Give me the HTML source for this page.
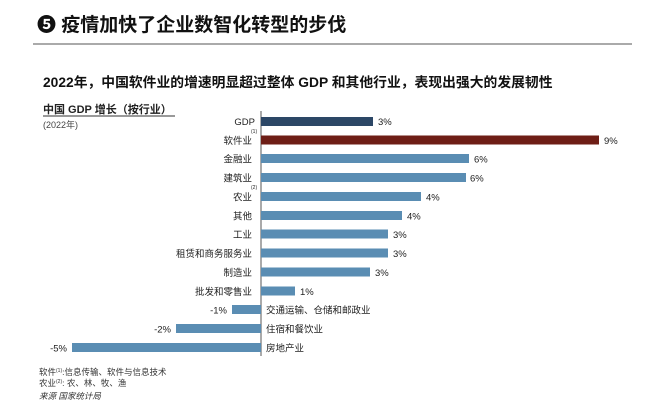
<!DOCTYPE html>
<html><head><meta charset="utf-8"><style>
body{margin:0;background:#fff;width:660px;height:404px;overflow:hidden}
svg{display:block;font-family:"Liberation Sans","Noto Sans CJK SC",sans-serif}
</style></head><body>
<svg width="660" height="404" viewBox="0 0 660 404">
<text x="37" y="31" font-size="19" font-weight="bold" fill="#111">❺ 疫情加快了企业数智化转型的步伐</text>
<line x1="33" y1="44" x2="632" y2="44" stroke="#555" stroke-width="1"/>
<text x="43" y="87" font-size="13.8" font-weight="bold" fill="#111">2022年，中国软件业的增速明显超过整体 GDP 和其他行业，表现出强大的发展韧性</text>
<text x="43" y="113" font-size="11" font-weight="bold" fill="#222">中国 GDP 增长（按行业）</text>
<line x1="43" y1="116" x2="175" y2="116" stroke="#333" stroke-width="1"/>
<text x="43" y="128" font-size="9" fill="#444">(2022年)</text>
<line x1="261" y1="111" x2="261" y2="356" stroke="#555" stroke-width="1"/>
<g font-size="9.5" fill="#222">
<rect x="261" y="117" width="112" height="9" fill="#2c4766"/><text x="378" y="125">3%</text><text x="255" y="125" text-anchor="end">GDP</text>
<rect x="261" y="135.5" width="338" height="9" fill="#6e1e16"/><text x="604" y="144">9%</text><text x="252" y="144" text-anchor="end">软件业</text><text x="251" y="133" font-size="5">(1)</text>
<rect x="261" y="154" width="208" height="9" fill="#5a8db3"/><text x="474" y="162.5">6%</text><text x="252" y="162.5" text-anchor="end">金融业</text>
<rect x="261" y="173" width="205" height="9" fill="#5a8db3"/><text x="470" y="181.5">6%</text><text x="252" y="181.5" text-anchor="end">建筑业</text>
<rect x="261" y="192" width="160" height="9" fill="#5a8db3"/><text x="426" y="200.5">4%</text><text x="252" y="200.5" text-anchor="end">农业</text><text x="251" y="189" font-size="5">(2)</text>
<rect x="261" y="211" width="141" height="9" fill="#5a8db3"/><text x="407" y="219.5">4%</text><text x="252" y="219.5" text-anchor="end">其他</text>
<rect x="261" y="229.5" width="127" height="9" fill="#5a8db3"/><text x="393" y="238">3%</text><text x="252" y="238" text-anchor="end">工业</text>
<rect x="261" y="248.5" width="127" height="9" fill="#5a8db3"/><text x="393" y="257">3%</text><text x="252" y="257" text-anchor="end">租赁和商务服务业</text>
<rect x="261" y="267.5" width="109" height="9" fill="#5a8db3"/><text x="375" y="276">3%</text><text x="252" y="276" text-anchor="end">制造业</text>
<rect x="261" y="286.5" width="34" height="9" fill="#5a8db3"/><text x="300" y="295">1%</text><text x="252" y="295" text-anchor="end">批发和零售业</text>
<rect x="232" y="305" width="29" height="9" fill="#5a8db3"/><text x="227" y="313.5" text-anchor="end">-1%</text><text x="266" y="313.5">交通运输、仓储和邮政业</text>
<rect x="176" y="324" width="85" height="9" fill="#5a8db3"/><text x="171" y="332.5" text-anchor="end">-2%</text><text x="266" y="332.5">住宿和餐饮业</text>
<rect x="72" y="343" width="189" height="9" fill="#5a8db3"/><text x="67" y="351.5" text-anchor="end">-5%</text><text x="266" y="351.5">房地产业</text>
</g>
<g font-size="8.5" fill="#333">
<text x="39" y="375">软件<tspan font-size="5" dy="-3">(1)</tspan><tspan dy="3">:信息传输、软件与信息技术</tspan></text>
<text x="39" y="386">农业<tspan font-size="5" dy="-3">(2)</tspan><tspan dy="3">: 农、林、牧、渔</tspan></text>
<text x="39" y="399" font-style="italic">来源 国家统计局</text>
</g>
</svg>
</body></html>
